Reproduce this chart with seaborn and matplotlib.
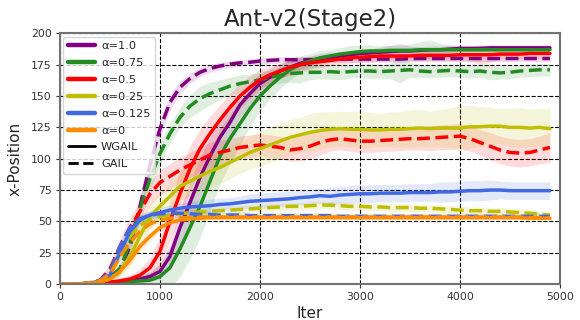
import numpy as np
import pandas as pd
import matplotlib
matplotlib.use('Agg')
import matplotlib.pyplot as plt
import seaborn as sns
from matplotlib.lines import Line2D

# iterations 0..4900 step 100
iters = list(range(0, 5000, 100))

alphas = ['1.0', '0.75', '0.5', '0.25', '0.125', '0']
colors = ['purple', 'forestgreen', 'red', 'y', 'royalblue', 'darkorange']

# WGAIL means
wgail_10 = [0, 0, 0, 0.5, 1, 1.5, 2, 3, 4, 6, 10, 22, 45, 65, 85, 102, 117, 129, 143, 152,
            160, 165, 170, 173, 176, 178, 180, 181, 182, 183, 184, 184.5, 185, 185.5, 186, 186, 186.5, 187, 187, 187.5,
            188, 188, 188, 188.5, 188.5, 188.5, 188.5, 188.5, 188.5, 188.5]
wgail_075 = [0, 0, 0, 0, 0.5, 1, 1.5, 2, 2.5, 3, 6, 13, 28, 45, 62, 82, 102, 116, 128, 140,
             150, 158, 165, 171, 175, 178, 180.5, 182, 183.5, 184.5, 185.5, 186, 186, 186.5, 186.5, 186.5, 187, 187, 187, 187,
             187, 187, 187, 187, 187, 187, 187, 187, 187, 187]
wgail_05 = [0, 0, 0, 0.5, 1, 1.5, 2.5, 4, 7, 13, 26, 50, 72, 92, 108, 120, 131, 141, 150, 157,
            163, 167, 170, 173, 175, 176.5, 177.5, 178.5, 179.5, 180.5, 181, 181.5, 182, 182, 182, 182, 182.5, 182.5, 182.5, 182.5,
            183, 183, 183, 183, 183.5, 183.5, 183.5, 184, 184, 184]
wgail_025 = [0, 0, 0, 0.5, 1.5, 4, 10, 22, 38, 54, 62, 70, 78, 82, 86, 90, 93, 97, 101, 105,
             108, 111, 114, 117, 119, 121, 122.5, 123.5, 124, 123.5, 123.5, 123, 123, 123.5, 123.5, 124, 124.5, 124, 124.5, 124.5,
             124.5, 125.5, 125.5, 126, 126, 125, 125, 124.5, 125, 124]
wgail_0125 = [0, 0, 0, 1, 2, 7, 25, 42, 51, 55, 57, 59, 60.5, 61.5, 62, 62.5, 63.5, 64, 65, 66,
              66.5, 67, 67.5, 68, 69, 69.5, 70.5, 70, 71, 71.5, 72, 72, 72.5, 72.5, 72.5, 73, 73, 73, 73.5, 73.5,
              74, 74.5, 74.5, 75, 75, 74.5, 74.5, 74.5, 74.5, 74.5]
wgail_0 = [0, 0, 0, 0.5, 1.5, 4, 10, 19, 30, 38, 45, 49, 51, 52, 52.5, 53, 53, 53, 53, 53,
           53, 53, 53, 53, 53, 53, 53, 53, 53, 53, 53, 53, 53, 53, 53, 53, 53, 53, 53, 53,
           53, 53, 53, 53, 53, 53, 53, 52.5, 52.5, 52.5]

# GAIL means
gail_10 = [0, 0, 0, 0.5, 1.5, 5, 12, 30, 62, 95, 124, 145, 157, 164, 169, 172, 174, 175.5, 176.5, 177,
           178, 178.5, 179, 179, 179, 179, 179, 179.5, 179.5, 179.5, 179.5, 179.5, 179.5, 179.5, 179.5, 180, 180, 180, 180, 180,
           180, 180, 180, 180, 180, 180, 180, 180, 180, 180]
gail_075 = [0, 0, 0, 0.5, 1.5, 5, 12, 33, 60, 84, 104, 120, 133, 142, 148, 152, 155, 158, 160, 161.5,
            163, 165, 166.5, 168, 168.5, 169, 169, 169.5, 169, 169.5, 170, 170, 169.5, 170, 170.5, 171, 170, 169.5, 170, 170.5,
            170, 169.5, 170, 169, 168.5, 169, 170, 170.5, 171, 171]
gail_05 = [0, 0, 0, 1, 3, 12, 30, 45, 58, 72, 81, 86, 91, 95, 99, 103, 105, 107, 109, 110,
           111, 110, 109, 107, 108, 110, 113, 115, 116, 115, 114, 114, 114.5, 115, 115.5, 116, 116, 116.5, 117, 117.5,
           118, 116, 113, 110, 107, 105, 104.5, 105, 107, 109]
gail_025 = [0, 0, 0, 1, 3, 8, 22, 38, 47, 51, 54, 55, 56, 57, 57.5, 58, 58.5, 59, 59.5, 60,
            60.5, 61, 61.5, 62, 62, 62.5, 63, 63, 62.5, 62, 62, 61.5, 61.5, 61, 61, 61, 60.5, 60.5, 60, 59.5,
            59, 58.5, 58.5, 58, 58, 57.5, 57, 56.5, 55.5, 55]
gail_0125 = [0, 0, 0, 1, 3, 10, 30, 45, 52, 55, 56, 56.5, 56.5, 56, 55.5, 55.5, 55, 55, 55, 54.5,
             54.5, 54.5, 54.5, 54.5, 54.5, 54.5, 54.5, 54.5, 54, 54, 54, 54, 54, 54, 54, 54, 54, 54, 54, 54,
             54, 54, 54, 54, 54, 54, 54, 54, 54, 54]
gail_0 = [0, 0, 0, 1, 2.5, 8, 22, 33, 42, 48, 51, 52.5, 53, 53, 53.5, 53.5, 53.5, 53.5, 53.5, 53.5,
          53.5, 53.5, 53.5, 53.5, 53.5, 53.5, 53.5, 53.5, 53.5, 53.5, 53.5, 53.5, 53.5, 53.5, 53.5, 53.5, 53.5, 53.5, 53.5, 53.5,
          53.5, 53.5, 53.5, 53.5, 53.5, 53.5, 53.5, 53, 53, 53]

# standard deviations (shaded bands)
wgail_10_sd = [0, 0, 0, 0.5, 1, 1, 1.5, 2, 3, 4, 6, 10, 14, 16, 16, 15, 14, 12, 10, 9,
               8, 7, 6, 5, 5, 4, 4, 4, 3, 3, 3, 3, 4, 5, 6, 4, 3, 3, 3, 3,
               2.5, 2.5, 2.5, 2.5, 2.5, 2.5, 2.5, 2.5, 2.5, 2.5]
wgail_075_sd = [0, 0, 0, 0.5, 1, 1.5, 2, 3, 4, 6, 10, 16, 22, 25, 25, 24, 22, 20, 17, 14,
                12, 10, 9, 8, 7, 6, 6, 5, 5, 6, 5, 5, 4, 4, 4, 5, 6, 8, 5, 4,
                3, 3, 3, 3, 3, 3, 3, 3, 3, 3]
wgail_05_sd = [0, 0, 0, 0.5, 1, 1.5, 2, 3, 5, 8, 12, 16, 18, 18, 16, 14, 12, 11, 10, 9,
               8, 7, 6, 6, 5, 5, 5, 4, 4, 4, 4, 4, 4, 4, 4, 4, 4, 4, 4, 4,
               4, 5, 8, 6, 4, 4, 4, 4, 4, 4]
wgail_025_sd = [0, 0, 0, 0.5, 1.5, 3, 5, 8, 10, 10, 10, 10, 11, 12, 12, 12, 13, 13, 13, 13,
                14, 14, 14, 14, 14, 15, 15, 14, 14, 14, 15, 14, 13, 14, 14, 15, 15, 14, 15, 16,
                18, 17, 16, 15, 14, 15, 16, 15, 15, 16]
wgail_0125_sd = [0, 0, 0, 0.5, 1, 3, 5, 5, 4, 4, 4, 4, 4, 5, 5, 5, 5, 5, 5, 6,
                 6, 6, 6, 6, 6, 6, 6, 7, 7, 7, 7, 7, 7, 7, 7, 7, 7, 7, 8, 8,
                 8, 8, 8, 8, 7, 7, 7, 7, 7, 7]
wgail_0_sd = [0, 0, 0, 0.3, 0.8, 2, 3, 4, 4, 4, 3, 2, 1.5, 1.5, 1.5, 1.5, 1.5, 1.5, 1.5, 1.5,
              1.5, 1.5, 1.5, 1.5, 1.5, 1.5, 1.5, 1.5, 1.5, 1.5, 1.5, 1.5, 1.5, 1.5, 1.5, 1.5, 1.5, 1.5, 1.5, 1.5,
              1.5, 1.5, 1.5, 1.5, 1.5, 1.5, 1.5, 1.5, 1.5, 1.5]
gail_10_sd = [0, 0, 0, 0.5, 1, 2, 4, 6, 8, 8, 7, 6, 5, 4, 3.5, 3, 3, 2.5, 2.5, 2.5,
              2.5, 2.5, 2.5, 2.5, 2.5, 2.5, 2.5, 2.5, 2.5, 2.5, 2.5, 2.5, 2.5, 2.5, 2.5, 2.5, 2.5, 2.5, 2.5, 2.5,
              2.5, 2.5, 2.5, 2.5, 2.5, 2.5, 2.5, 2.5, 2.5, 2.5]
gail_075_sd = [0, 0, 0, 0.5, 1.5, 3, 5, 8, 10, 10, 9, 8, 8, 9, 10, 9, 8, 7, 7, 6,
               6, 6, 6, 7, 8, 6, 5, 6, 6, 5, 5, 6, 5, 6, 10, 6, 5, 5, 5, 5,
               5, 5, 5, 6, 5, 5, 5, 5, 5, 5]
gail_05_sd = [0, 0, 0, 1, 2, 4, 6, 8, 9, 9, 10, 10, 10, 10, 10, 10, 10, 9, 9, 9,
              9, 9, 9, 9, 10, 10, 10, 9, 9, 9, 9, 9, 9, 9, 9, 9, 9, 10, 10, 10,
              10, 10, 10, 11, 11, 11, 11, 11, 11, 12]
gail_025_sd = [0, 0, 0, 0.5, 1.5, 3, 5, 6, 5, 4, 3.5, 3, 3, 3, 3, 3, 3, 3, 3, 3,
               3, 3, 3, 3, 3, 3, 3, 3, 3, 3, 3, 3, 3, 3, 3, 3, 3, 3, 3, 3,
               3, 3, 3, 3, 3, 3, 3, 3, 3, 3]
gail_0125_sd = [0, 0, 0, 0.5, 1.5, 3, 4, 4, 3, 3, 2.5, 2.5, 2.5, 2.5, 2.5, 2.5, 2.5, 2.5, 2.5, 2.5,
                2.5, 2.5, 2.5, 2.5, 2.5, 2.5, 2.5, 2.5, 2.5, 2.5, 2.5, 2.5, 2.5, 2.5, 2.5, 2.5, 2.5, 2.5, 2.5, 2.5,
                2.5, 2.5, 2.5, 2.5, 2.5, 2.5, 2.5, 2.5, 2.5, 2.5]
gail_0_sd = [0, 0, 0, 0.3, 0.8, 2, 3, 4, 4, 3, 2, 1.5, 1.5, 1.5, 1.5, 1.5, 1.5, 1.5, 1.5, 1.5,
             1.5, 1.5, 1.5, 1.5, 1.5, 1.5, 1.5, 1.5, 1.5, 1.5, 1.5, 1.5, 1.5, 1.5, 1.5, 1.5, 1.5, 1.5, 1.5, 1.5,
             1.5, 1.5, 1.5, 1.5, 1.5, 1.5, 1.5, 1.5, 1.5, 1.5]

wgail = [wgail_10, wgail_075, wgail_05, wgail_025, wgail_0125, wgail_0]
gail = [gail_10, gail_075, gail_05, gail_025, gail_0125, gail_0]
wgail_sd = [wgail_10_sd, wgail_075_sd, wgail_05_sd, wgail_025_sd, wgail_0125_sd, wgail_0_sd]
gail_sd = [gail_10_sd, gail_075_sd, gail_05_sd, gail_025_sd, gail_0125_sd, gail_0_sd]

sns.set_style('ticks', {'axes.grid': True, 'grid.color': 'k', 'grid.linestyle': '--',
                        'axes.edgecolor': '.4'})
plt.rcParams['font.family'] = ['DejaVu Sans']

fig = plt.figure(figsize=(5.8, 3.2), dpi=100)
ax = fig.add_axes([0.1034, 0.1125, 0.862, 0.783])

x = np.array(iters)
for i in range(len(alphas)):
    c = colors[i]
    for mean, sd, ls in [(gail[i], gail_sd[i], '--'), (wgail[i], wgail_sd[i], '-')]:
        m = np.array(mean, dtype=float)
        s = np.array(sd, dtype=float)
        ax.fill_between(x, m - s, m + s, color=c, alpha=0.14, lw=0)
        sns.lineplot(x=x, y=m, color=c, linestyle=ls, lw=2.5, ax=ax)

ax.set_xlim(0, 5000)
ax.set_ylim(0, 200)
ax.set_xticks([0, 1000, 2000, 3000, 4000, 5000])
ax.set_yticks(range(0, 201, 25))
ax.grid(True, color='k', linestyle='--', linewidth=0.8)
ax.tick_params(axis='both', labelsize=7.8, colors='.2', length=3, pad=3)
for sp in ax.spines.values():
    sp.set_linewidth(1.5)
    sp.set_color('.45')
ax.set_title('Ant-v2(Stage2)', fontsize=16.5, pad=5)
ax.set_xlabel('Iter', fontsize=11, labelpad=3)
ax.set_ylabel('x-Position', fontsize=11, labelpad=6)

handles = [Line2D([0], [0], color=c, lw=3.2) for c in colors]
handles += [Line2D([0], [0], color='k', lw=2, linestyle='-'),
            Line2D([0], [0], color='k', lw=2, linestyle='--')]
labels = ['α=' + a for a in alphas] + ['WGAIL', 'GAIL']
ax.legend(handles, labels, loc='upper left', fontsize=8.2, handlelength=2.4,
          handletextpad=0.5, labelspacing=0.6, borderpad=0.4, borderaxespad=0.3,
          framealpha=0.8)

fig.savefig('out.png', dpi=100)
